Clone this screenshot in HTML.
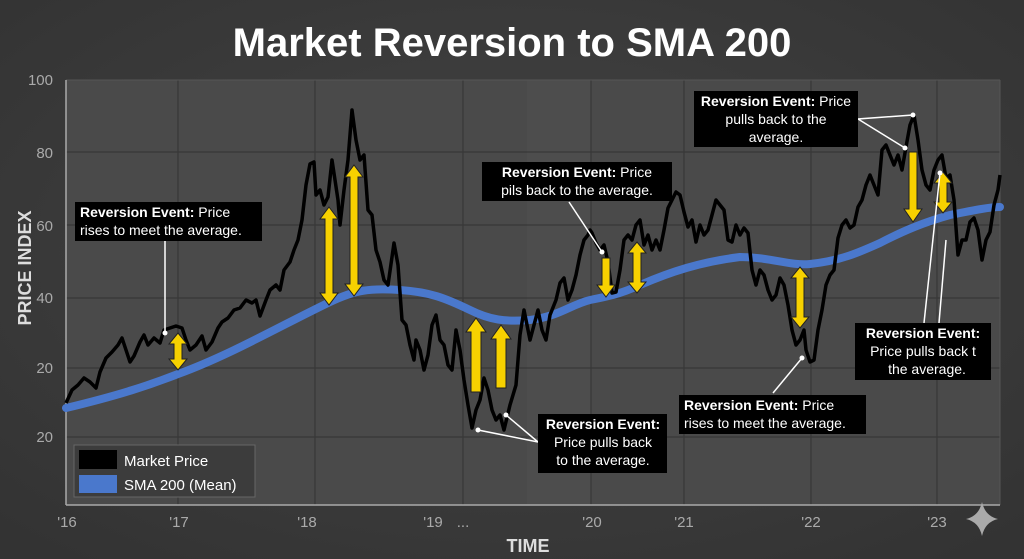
<!DOCTYPE html>
<html><head><meta charset="utf-8"><style>
html,body{margin:0;padding:0;background:#3a3a3a;}
svg{display:block;font-family:"Liberation Sans","DejaVu Sans",sans-serif;}
</style></head><body>
<svg width="1024" height="559" viewBox="0 0 1024 559" xmlns="http://www.w3.org/2000/svg">
<defs>
<radialGradient id="bg" cx="50%" cy="45%" r="70%">
<stop offset="0" stop-color="#444"/><stop offset="1" stop-color="#333"/>
</radialGradient>
</defs>
<rect width="1024" height="559" fill="url(#bg)"/>
<text x="512" y="56" text-anchor="middle" font-size="40" font-weight="bold" fill="#fff">Market Reversion to SMA 200</text>
<rect x="66" y="80" width="934" height="425" fill="#4a4a4a"/>
<rect x="527" y="80" width="64" height="425" fill="#4d4d4d"/>
<g stroke="#383838" stroke-width="1.2">
<line x1="66" y1="152" x2="1000" y2="152"/><line x1="66" y1="225" x2="1000" y2="225"/>
<line x1="66" y1="298" x2="1000" y2="298"/><line x1="66" y1="368" x2="1000" y2="368"/>
<line x1="66" y1="437" x2="1000" y2="437"/>
<line x1="178" y1="80" x2="178" y2="505"/><line x1="315" y1="80" x2="315" y2="505"/>
<line x1="463" y1="80" x2="463" y2="505"/><line x1="591" y1="80" x2="591" y2="505"/>
<line x1="684" y1="80" x2="684" y2="505"/><line x1="811" y1="80" x2="811" y2="505"/>
<line x1="937" y1="80" x2="937" y2="505"/>
</g>
<line x1="66" y1="80" x2="1000" y2="80" stroke="#555" />
<line x1="1000" y1="80" x2="1000" y2="505" stroke="#555" />
<line x1="66" y1="80" x2="66" y2="505" stroke="#aaa" stroke-width="1.5"/>
<line x1="66" y1="505" x2="1000" y2="505" stroke="#aaa" stroke-width="1.5"/>
<g fill="#aaa" font-size="15" text-anchor="end">
<text x="53" y="85">100</text><text x="53" y="158">80</text><text x="53" y="231">60</text>
<text x="53" y="303">40</text><text x="53" y="373">20</text><text x="53" y="442">20</text>
</g>
<g fill="#aaa" font-size="15" text-anchor="middle">
<text x="67" y="527">'16</text><text x="179" y="527">'17</text><text x="307" y="527">'18</text>
<text x="433" y="527">'19</text><text x="463" y="527">...</text><text x="592" y="527">'20</text>
<text x="684" y="527">'21</text><text x="811" y="527">'22</text><text x="937" y="527">'23</text>
</g>
<text x="528" y="552" text-anchor="middle" font-size="18" font-weight="bold" fill="#ddd">TIME</text>
<text transform="translate(31,268) rotate(-90)" text-anchor="middle" font-size="18" font-weight="bold" fill="#ddd">PRICE INDEX</text>
<path fill="none" stroke="#4a78cc" stroke-width="8" stroke-linecap="round" d="M66,408 C120,395 150,385 178,374 C230,355 280,326 330,302 C355,290 370,288 400,290 C430,292 445,298 470,310 C490,320 505,322 530,320 C560,316 570,305 590,300 C615,295 625,292 640,285 C670,272 700,262 740,257 C770,257 790,266 810,264 C840,261 860,252 880,243 C905,230 925,222 950,215 C975,210 990,207 1000,207"/>
<polyline fill="none" stroke="#000" stroke-width="3.5" stroke-linejoin="round" points="66,403 72,390 78,385 84,378 90,382 96,388 100,372 106,358 112,352 118,345 122,338 126,350 130,362 134,356 140,342 144,335 148,345 154,338 160,343 164,330 170,328 176,326 182,328 186,340 190,350 196,345 202,336 206,350 212,342 218,328 222,322 228,318 234,310 240,308 246,300 252,303 256,300 260,316 266,300 270,290 276,285 280,290 284,270 290,262 294,250 298,240 302,220 306,185 310,164 314,162 316,195 320,190 324,205 328,197 332,160 338,200 340,225 344,190 348,160 352,110 356,140 360,160 364,155 368,210 372,215 376,250 380,262 384,280 388,285 394,243 398,265 402,320 406,325 410,345 414,360 416,340 420,350 424,370 428,355 432,325 436,315 440,340 444,345 448,365 452,370 456,330 460,350 464,380 468,405 472,428 476,410 480,400 484,378 488,390 492,410 496,420 500,415 504,430 510,405 516,385 520,335 524,310 530,340 534,325 538,310 542,330 546,340 550,315 556,300 560,283 564,278 568,300 572,290 576,275 580,255 584,240 588,235 590,230 592,233 596,243 600,250 604,245 608,262 612,293 616,292 620,270 624,240 628,235 632,240 636,225 640,220 644,245 648,235 652,250 656,240 660,250 664,230 668,208 672,200 676,192 680,195 684,212 688,227 692,220 696,242 700,225 704,235 708,230 712,215 716,200 720,205 724,210 728,240 732,242 736,225 740,235 744,228 748,233 752,270 756,285 760,270 764,275 768,290 772,300 776,295 780,278 784,285 788,305 792,330 796,345 800,340 804,330 806,350 810,362 814,360 818,330 822,310 826,285 830,275 834,270 838,238 842,225 846,220 850,228 854,225 858,207 862,200 866,185 870,175 874,185 878,195 882,150 886,145 890,155 894,165 898,155 902,170 906,147 910,125 914,115 918,140 922,170 926,185 930,190 934,170 938,160 942,155 946,178 950,175 954,200 958,255 962,240 966,240 970,222 974,218 978,230 982,260 986,240 990,232 994,205 998,190 1000,175"/>
<g fill="#f7d100" stroke="#222" stroke-width="1">
<path d="M178,333 l9,11 h-5 v15 h5 l-9,11 l-9,-11 h5 v-15 h-5 z"/>
<path d="M329,207 l9,12 h-5 v74 h5 l-9,12 l-9,-12 h5 v-74 h-5 z"/>
<path d="M354,165 l9,12 h-5 v107 h5 l-9,12 l-9,-12 h5 v-107 h-5 z"/>
<path d="M476,318 l10,14 h-5 v60 h-10 v-60 h-5 z"/>
<path d="M501,325 l10,14 h-5 v49 h-10 v-49 h-5 z"/>
<path d="M606,297 l9,-12 h-5 v-27 h-8 v27 h-5 z"/>
<path d="M637,242 l9,11 h-5 v29 h5 l-9,11 l-9,-11 h5 v-29 h-5 z"/>
<path d="M800,267 l9,11 h-5 v39 h5 l-9,11 l-9,-11 h5 v-39 h-5 z"/>
<path d="M913,222 l9,-13 h-5 v-57 h-8 v57 h-5 z"/>
<path d="M943,172 l9,11 h-5 v19 h5 l-9,11 l-9,-11 h5 v-19 h-5 z"/>
</g>
<g stroke="#fff" stroke-width="1.5" fill="none">
<line x1="165" y1="240" x2="165" y2="333"/>
<line x1="569" y1="202" x2="602" y2="252"/>
<polyline points="913,115 858,119 905,148"/>
<polyline points="478,430 538,442 506,415"/>
<line x1="773" y1="393" x2="802" y2="358"/>
<line x1="924" y1="323" x2="940" y2="173"/>
<line x1="939" y1="323" x2="946" y2="240"/>
</g>
<g fill="#fff">
<circle cx="165" cy="333" r="2.5"/><circle cx="602" cy="252" r="2.5"/><circle cx="913" cy="115" r="2.5"/>
<circle cx="905" cy="148" r="2.5"/><circle cx="478" cy="430" r="2.5"/><circle cx="506" cy="415" r="2.5"/>
<circle cx="802" cy="358" r="2.5"/><circle cx="940" cy="173" r="2.5"/>
</g>
<g fill="#000">
<rect x="75" y="202" width="187" height="39"/>
<rect x="482" y="162" width="190" height="39"/>
<rect x="694" y="91" width="164" height="56"/>
<rect x="538" y="414" width="129" height="59"/>
<rect x="679" y="395" width="187" height="39"/>
<rect x="855" y="323" width="136" height="57"/>
</g>
<g fill="#fff" font-size="14">
<text x="80" y="217"><tspan font-weight="bold">Reversion Event:</tspan> Price</text>
<text x="80" y="235">rises to meet the average.</text>
<text x="577" y="177" text-anchor="middle"><tspan font-weight="bold">Reversion Event:</tspan> Price</text>
<text x="577" y="195" text-anchor="middle">pils back to the average.</text>
<text x="776" y="106" text-anchor="middle"><tspan font-weight="bold">Reversion Event:</tspan> Price</text>
<text x="776" y="124" text-anchor="middle">pulls back to the</text>
<text x="776" y="142" text-anchor="middle">average.</text>
<text x="603" y="429" text-anchor="middle" font-weight="bold">Reversion Event:</text>
<text x="603" y="447" text-anchor="middle">Price pulls back</text>
<text x="603" y="465" text-anchor="middle">to the average.</text>
<text x="684" y="410"><tspan font-weight="bold">Reversion Event:</tspan> Price</text>
<text x="684" y="428">rises to meet the average.</text>
<text x="923" y="338" text-anchor="middle" font-weight="bold">Reversion Event:</text>
<text x="923" y="356" text-anchor="middle">Price pulls back t</text>
<text x="927" y="374" text-anchor="middle">the average.</text>
</g>
<rect x="74" y="445" width="181" height="52" fill="#3c3c3c" stroke="#666" stroke-width="1"/>
<rect x="79" y="450" width="38" height="19" fill="#000"/>
<rect x="79" y="475" width="38" height="18" fill="#4a78cc"/>
<text x="124" y="466" font-size="15" fill="#fff">Market Price</text>
<text x="124" y="490" font-size="15" fill="#fff">SMA 200 (Mean)</text>
<path d="M982,502 Q985,516 998,519 Q985,522 982,536 Q979,522 966,519 Q979,516 982,502 z" fill="#aaa"/>
</svg>
</body></html>
